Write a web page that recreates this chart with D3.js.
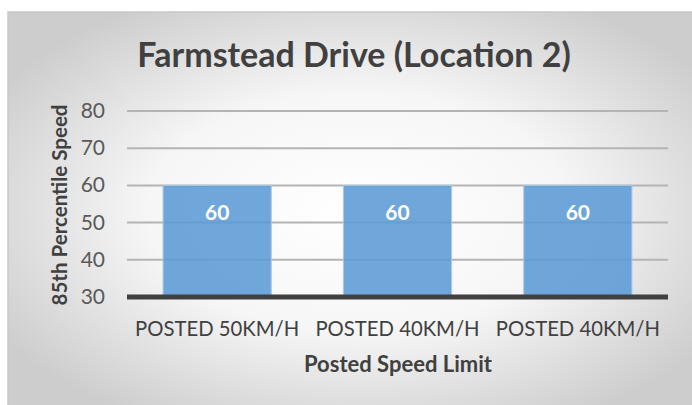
<!DOCTYPE html>
<html>
<head>
<meta charset="utf-8">
<script src="https://cdn.jsdelivr.net/npm/d3@7"></script>
<style>
body{margin:0;background:#fff}
text{font-family:Lato,"Open Sans",sans-serif}
</style>
</head>
<body>
<svg></svg>
<script>
var categories=["POSTED 50KM/H","POSTED 40KM/H","POSTED 40KM/H"]
var speeds=[60,60,60]
var yTicks=[30,40,50,60,70,80]

var svg=d3.select("svg").attr("width",692).attr("height",405)

var defs=svg.append("defs")
var grad=defs.append("radialGradient").attr("id","bg")
  .attr("cx","50%").attr("cy","50%").attr("r","60%")
grad.append("stop").attr("offset","0%").attr("stop-color","#ffffff")
grad.append("stop").attr("offset","50%").attr("stop-color","#f6f6f6")
grad.append("stop").attr("offset","100%").attr("stop-color","#cdcdcd")

svg.append("rect").attr("x",8).attr("y",12).attr("width",700).attr("height",400)
  .attr("fill","url(#bg)").attr("stroke","#c8c8c8").attr("stroke-width",1.5)

var x=d3.scaleBand().domain(d3.range(categories.length)).range([127,668]).paddingInner(0.4).paddingOuter(0.2)
var y=d3.scaleLinear().domain([30,80]).range([297,111])

// gridlines
svg.append("g").selectAll("line").data(yTicks.filter(d=>d>30)).enter().append("line")
  .attr("x1",127).attr("x2",668)
  .attr("y1",d=>y(d)).attr("y2",d=>y(d))
  .attr("stroke","#b4b4b4").attr("stroke-width",2)

// tick labels
svg.append("g").selectAll("text").data(yTicks).enter().append("text")
  .text(d=>d)
  .attr("x",105).attr("y",d=>y(d)+7)
  .attr("text-anchor","end")
  .style("font-size","21px").attr("fill","#595959")

// bars
var bars=svg.append("g").selectAll("g").data(speeds).enter().append("g")
bars.append("rect")
  .attr("x",(d,i)=>x(i)).attr("width",x.bandwidth())
  .attr("y",d=>y(d)).attr("height",d=>y(30)-y(d))
  .attr("fill","#5b9bd5").attr("fill-opacity",0.88)
  .attr("stroke","#a9c9e8").attr("stroke-width",1)
bars.append("text")
  .text(d=>d)
  .attr("x",(d,i)=>x(i)+x.bandwidth()/2)
  .attr("y",d=>y(d)+35)
  .attr("text-anchor","middle")
  .style("font-size","21px").style("font-weight","bold").attr("fill","#ffffff")

// axis line
svg.append("line").attr("x1",127).attr("x2",668).attr("y1",y(30)).attr("y2",y(30))
  .attr("stroke","#404040").attr("stroke-width",5)

// category labels
svg.append("g").selectAll("text").data(categories).enter().append("text")
  .text(d=>d)
  .attr("x",(d,i)=>x(i)+x.bandwidth()/2)
  .attr("y",336)
  .attr("text-anchor","middle")
  .style("font-size","20.3px").attr("fill","#404040")

svg.append("text").text("Posted Speed Limit")
  .attr("x",398).attr("y",372).attr("text-anchor","middle")
  .style("font-size","22px").style("font-weight","bold").attr("fill","#404040")

svg.append("text").text("85th Percentile Speed")
  .attr("transform","translate(67,205) rotate(-90)")
  .attr("text-anchor","middle")
  .style("font-size","20.5px").style("font-weight","bold").attr("fill","#404040")

svg.append("text").text("Farmstead Drive (Location 2)")
  .attr("x",354).attr("y",67).attr("text-anchor","middle")
  .style("font-size","34px").style("font-weight","bold").attr("fill","#404040")
</script>
</body>
</html>
